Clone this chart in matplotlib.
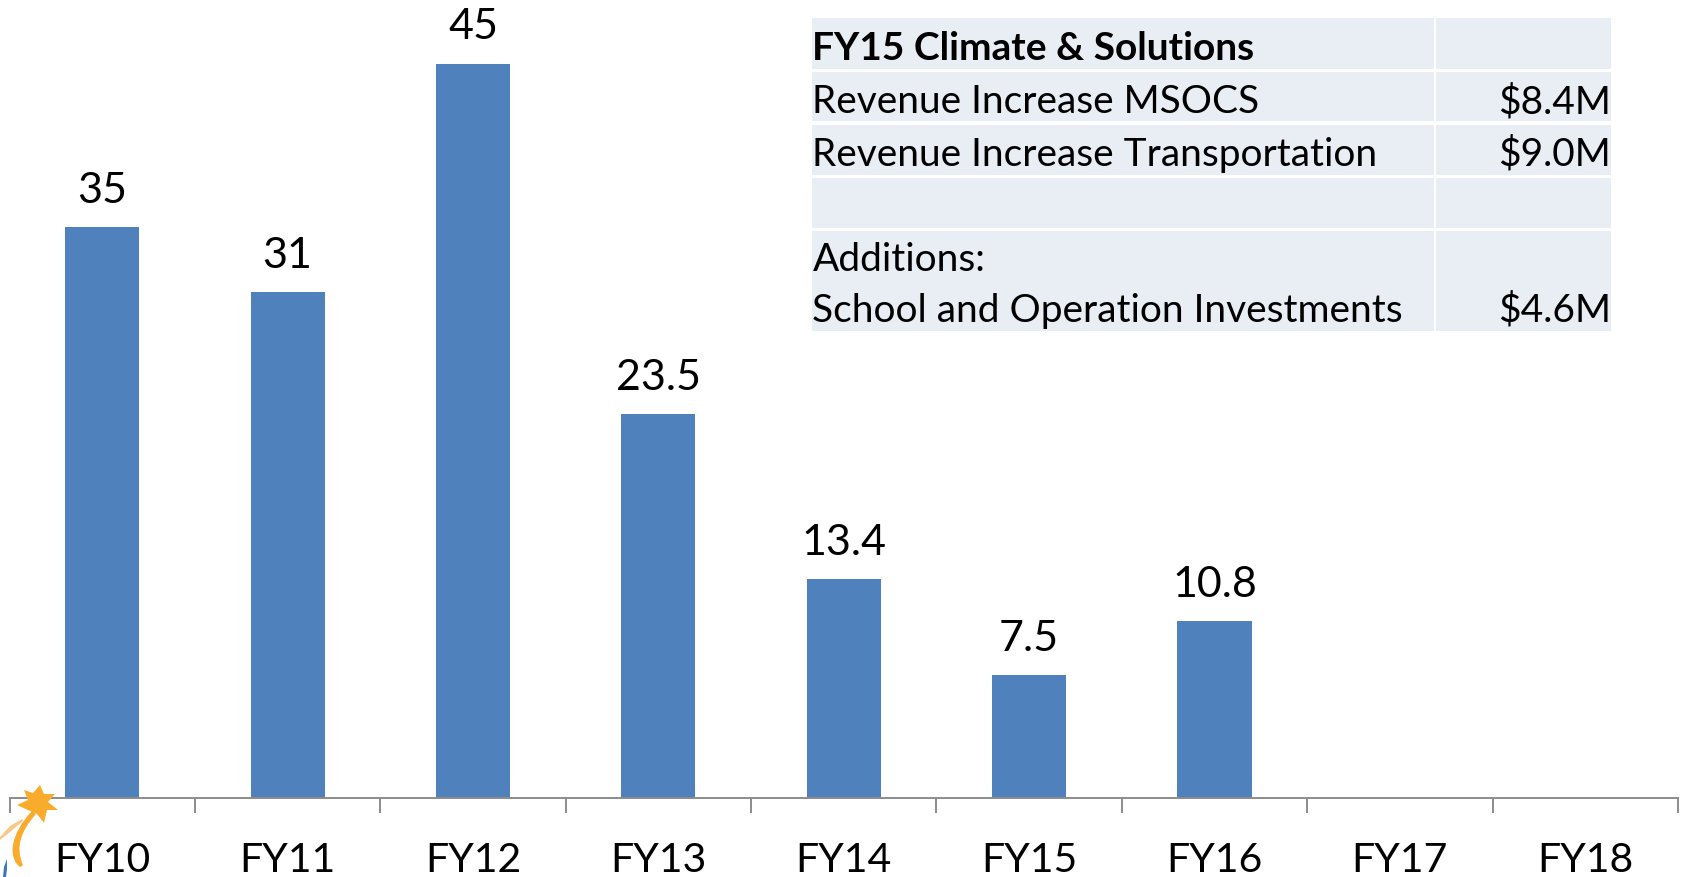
#! /usr/bin/env python
import numpy as np
import matplotlib
matplotlib.use('Agg')
import matplotlib.pyplot as plt
from matplotlib.patches import Polygon, PathPatch, Rectangle
from matplotlib.path import Path

categories = ['FY10', 'FY11', 'FY12', 'FY13', 'FY14', 'FY15', 'FY16', 'FY17', 'FY18']
values = [35, 31, 45, 23.5, 13.4, 7.5, 10.8]
value_labels = ['35', '31', '45', '23.5', '13.4', '7.5', '10.8']

table_labels = ['FY15 Climate & Solutions', 'Revenue Increase MSOCS', 'Revenue Increase Transportation',
                '', 'Additions:', 'School and Operation Investments']
table_amounts = ['', '$8.4M', '$9.0M', '', '', '$4.6M']

W, H = 1683, 878
BLUE = '#4f81bd'
GREY = '#8c8c8c'
CELL = '#e9edf4'
ORANGE = '#f9ab2c'

# table layout in picture pixels
ROW_TOPS = [19, 72.7, 125.7, 179, 232.3]
ROW_BOTTOMS = [70, 122.3, 176, 229, 332]
COLS = [(812.5, 1433.7), (1436, 1610.7)]
BASELINES = [60, 113, 166, 218, 271, 322]

plt.rcParams['font.family'] = ['Lato', 'DejaVu Sans']


def px_axes(fig, x0, y0, x1, y1):
    # y measured from the top of the picture
    return fig.add_axes([x0 / W, 1 - y1 / H, (x1 - x0) / W, (y1 - y0) / H])


fig = plt.figure(figsize=(W / 100, H / 100), dpi=100)

# bars, about 16.3 px per unit
ax = px_axes(fig, 9.5, 0, 1678, 798.5)
ax.patch.set_visible(False)
x = np.arange(len(values))
bars = ax.bar(x, values, width=0.4, color=BLUE)
ax.bar_label(bars, labels=value_labels, padding=13, fontsize=31)
ax.set_xlim(-0.5, len(categories) - 0.5)
ax.set_ylim(0, 798.5 / 16.31)
ax.yaxis.set_visible(False)
for side in ['top', 'left', 'right']:
    ax.spines[side].set_visible(False)
ax.spines['bottom'].set_color(GREY)
ax.spines['bottom'].set_linewidth(1.4)
ax.set_xticks(np.arange(len(categories)))
ax.set_xticklabels(categories, fontsize=29.5)
ax.set_xticks(np.arange(len(categories) + 1) - 0.5, minor=True)
ax.tick_params(axis='x', which='major', length=0, pad=31, colors='black')
ax.tick_params(axis='x', which='minor', length=10.8, width=1.4, color=GREY)

# overlay in pixel coordinates for table and logo
lax = px_axes(fig, 0, 0, W, H)
lax.set_xlim(0, W)
lax.set_ylim(H, 0)
lax.axis('off')

for top, bottom in zip(ROW_TOPS, ROW_BOTTOMS):
    for left, right in COLS:
        lax.add_patch(Rectangle((left, top), right - left, bottom - top, facecolor=CELL, edgecolor='none'))

for i, (label, amount) in enumerate(zip(table_labels, table_amounts)):
    weight = 'bold' if i == 0 else 'normal'
    lax.text(812.5, BASELINES[i], label, fontsize=28, fontweight=weight, ha='left', va='baseline')
    lax.text(1611, BASELINES[i], amount, fontsize=28, ha='right', va='baseline')

# logo fragment in the corner
star = [(24, 791), (33, 794), (40, 786), (44, 795), (55, 795), (48, 803), (58, 811), (47, 811),
        (44, 824), (37, 815), (30, 812), (17, 806), (28, 801)]
lax.add_patch(Polygon(star, closed=True, facecolor=ORANGE, edgecolor='none', zorder=3))
tail = Path([(32, 812), (11, 834), (7, 858), (20, 868), (23, 866), (15, 848), (21, 832), (36, 815), (32, 812)],
            [Path.MOVETO, Path.CURVE4, Path.CURVE4, Path.CURVE4, Path.LINETO, Path.CURVE4, Path.CURVE4, Path.CURVE4, Path.CLOSEPOLY])
lax.add_patch(PathPatch(tail, facecolor=ORANGE, edgecolor='none'))
lax.add_patch(Polygon([(22, 820), (10, 827), (0, 838), (0, 841), (10, 833), (23, 822)], facecolor='#f6c98a', edgecolor='none'))
lax.add_patch(Polygon([(7, 860), (4, 868), (3, 878), (6, 878), (7, 870)], facecolor='#3a78b8', edgecolor='none'))

fig.savefig('out.png', dpi=100)
